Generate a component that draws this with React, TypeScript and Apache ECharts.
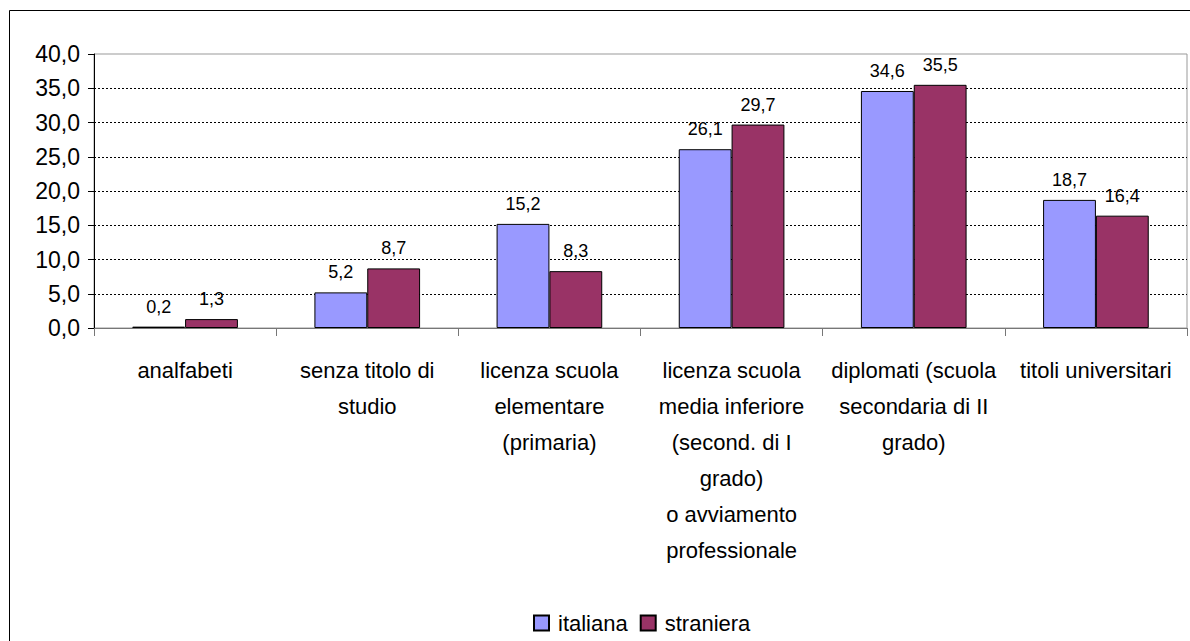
import React, { useEffect, useRef } from "react";
import * as echarts from "echarts";

const categories = [
  "analfabeti",
  "senza titolo di\nstudio",
  "licenza scuola\nelementare\n(primaria)",
  "licenza scuola\nmedia inferiore\n(second. di I\ngrado)\no avviamento\nprofessionale",
  "diplomati (scuola\nsecondaria di II\ngrado)",
  "titoli universitari",
];
const italiana = [0.2, 5.2, 15.2, 26.1, 34.6, 18.7];
const straniera = [1.3, 8.7, 8.3, 29.7, 35.5, 16.4];
const seriesNames = ["italiana", "straniera"];
const colors = ["#9999FF", "#993366"];

const FONT = "'Liberation Sans', Arial, sans-serif";
const fmt = (v: number) => v.toFixed(1).replace(".", ",");

export default function App() {
  const ref = useRef<HTMLDivElement>(null);
  useEffect(() => {
    document.body.style.margin = "0";
    const chart = echarts.init(ref.current!, null, { renderer: "svg" });
    const mk = (name: string, data: number[], color: string) => ({
      name,
      type: "bar",
      data,
      barGap: "0%",
      barCategoryGap: "42%",
      itemStyle: { color, borderColor: "#000", borderWidth: 1 },
      label: {
        show: true,
        position: "top",
        distance: 11,
        color: "#000",
        fontSize: 18,
        fontFamily: FONT,
        formatter: (p: any) => fmt(p.value),
      },
    });
    chart.setOption({
      animation: false,
      backgroundColor: "#fff",
      textStyle: { fontFamily: FONT },
      grid: {
        left: 94,
        right: 3,
        top: 54,
        bottom: 313,
        show: true,
        borderColor: "#999",
        borderWidth: 1,
        backgroundColor: "transparent",
      },
      graphic: [
        {
          type: "rect",
          shape: { x: 9.5, y: 10.5, width: 1300, height: 800 },
          style: { fill: "none", stroke: "#000", lineWidth: 1 },
          silent: true,
        },
      ],
      legend: {
        data: seriesNames,
        left: 533,
        top: 612,
        padding: 0,
        icon: "rect",
        itemWidth: 15,
        itemHeight: 15,
        itemGap: 12,
        textStyle: { fontSize: 22, color: "#000", fontFamily: FONT, padding: [0, 0, 0, 4] },
      },
      xAxis: {
        type: "category",
        data: categories,
        axisLine: { lineStyle: { color: "#777", width: 1 } },
        axisTick: { show: true, length: 8, lineStyle: { color: "#777" } },
        axisLabel: {
          interval: 0,
          margin: 24,
          color: "#000",
          fontSize: 22,
          lineHeight: 36,
          fontFamily: FONT,
        },
      },
      yAxis: {
        type: "value",
        min: 0,
        max: 40,
        interval: 5,
        axisLine: { show: true, lineStyle: { color: "#000", width: 1 } },
        axisTick: { show: true, length: 6, lineStyle: { color: "#000" } },
        axisLabel: {
          margin: 14,
          color: "#000",
          fontSize: 23,
          fontFamily: FONT,
          formatter: (v: number) => fmt(v),
        },
        splitLine: {
          show: true,
          showMinLine: false,
          showMaxLine: false,
          lineStyle: { color: "#000", type: [2, 2], width: 1 },
        },
      },
      series: [mk(seriesNames[0], italiana, colors[0]), mk(seriesNames[1], straniera, colors[1])],
    });
    return () => chart.dispose();
  }, []);
  return (
    <div
      ref={ref}
      style={{ position: "fixed", left: 0, top: 0, width: 1190, height: 641 }}
    />
  );
}
